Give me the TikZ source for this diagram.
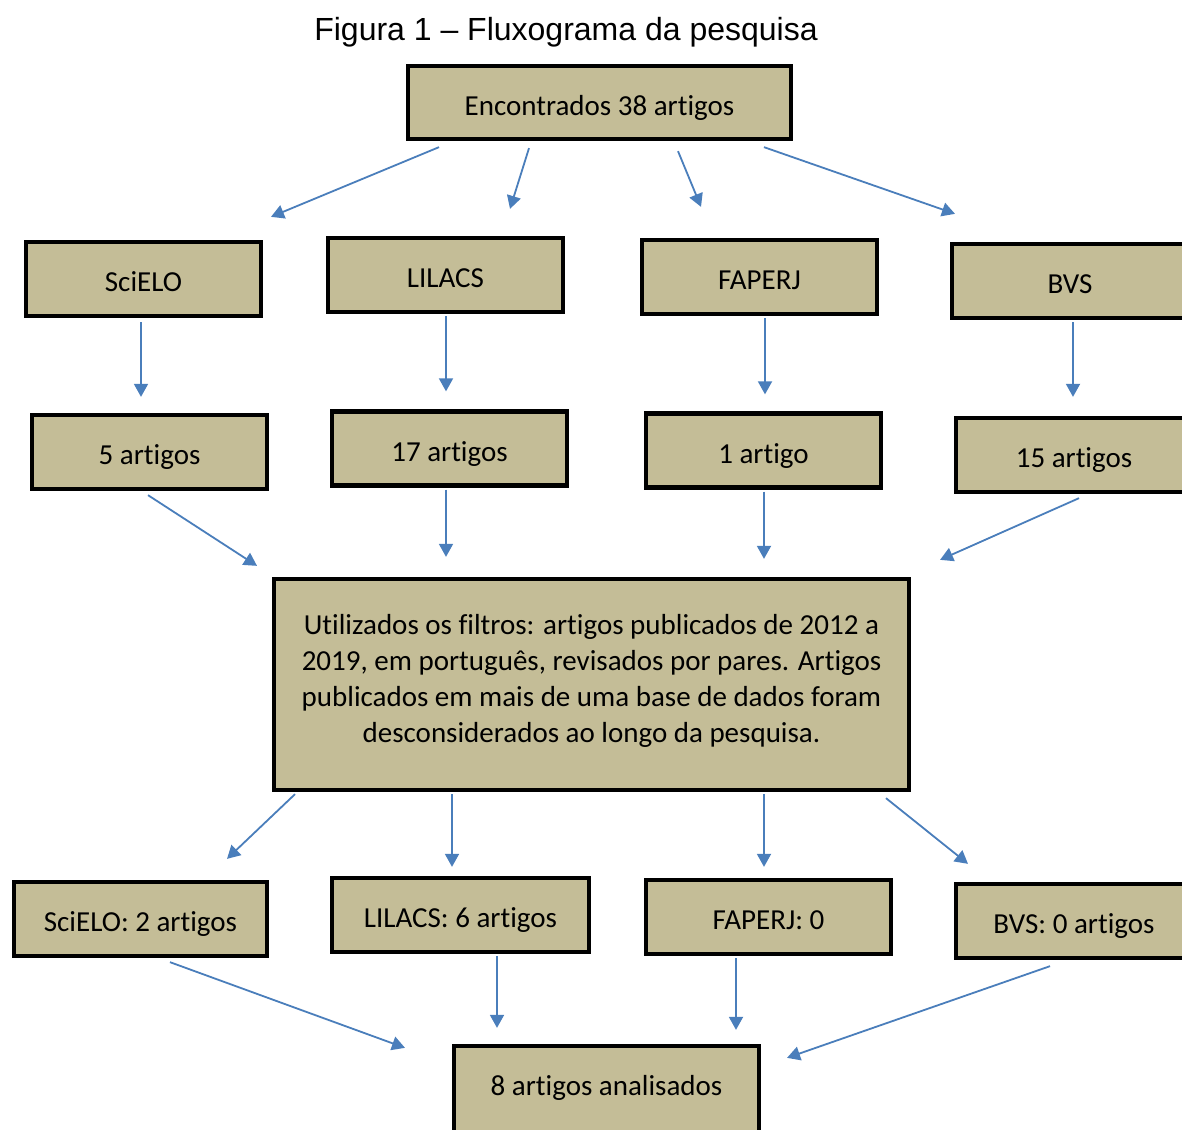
\documentclass[tikz,border=0pt]{standalone}
\usepackage{fontspec}
\setmainfont{Carlito}[Ligatures=CommonOff]
\newfontfamily\titlefont{Liberation Sans}
\usetikzlibrary{arrows.meta,calc}
\definecolor{boxtan}{HTML}{C4BD97}
\definecolor{arrblue}{HTML}{4A7EBB}

\begin{document}
\begin{tikzpicture}[x=1pt,y=-1pt,
  basebox/.style={draw,line width=4.3pt,fill=boxtan,minimum width=235,minimum height=74,inner sep=0pt,font=\fontsize{29}{36}\selectfont},
  box/.style={basebox,text height=31,text depth=6},
  arr/.style={-{Triangle[width=14pt,length=13pt]},arrblue,line width=1.8pt}]
\useasboundingbox (0,0) rectangle (1182,1129);
\clip (0,0) rectangle (1182,1129);
% titulo
\node[anchor=base,font=\titlefont\fontsize{32}{38}\selectfont] (title) at (566,41) {Figura 1 – Fluxograma da pesquisa};
% caixas
\node[box,minimum width=383,minimum height=73] (top) at (599.5,102.5) {Encontrados 38 artigos};
\node[box] (scielo) at (143.5,279) {SciELO};
\node[box] (lilacs) at (445.5,275) {LILACS};
\node[box] (faperj) at (759.5,277) {FAPERJ};
\node[box,minimum width=236] (bvs) at (1070,281) {BVS};
\node[box] (n5) at (149.5,452) {5 artigos};
\node[box] (n17) at (449.5,448.5) {17 artigos};
\node[box] (n1) at (763.5,450.5) {1 artigo};
\node[box,minimum width=236] (n15) at (1074,455) {15 artigos};
\node[basebox,minimum width=635,minimum height=211,align=center] (filt) at (591.5,684.5) {Utilizados os filtros: artigos publicados de 2012 a\\2019, em português, revisados por pares. Artigos\\publicados em mais de uma base de dados foram\\desconsiderados ao longo da pesquisa.\rule[-12pt]{0pt}{12pt}};
\node[box,minimum width=253] (s2) at (140.5,919) {SciELO: 2 artigos};
\node[box,minimum width=257] (l6) at (460.5,915) {LILACS: 6 artigos};
\node[box,minimum width=245] (f0) at (768.5,917) {FAPERJ: 0};
\node[box,minimum width=236] (b0) at (1074,921) {BVS: 0 artigos};
\node[box,text height=19,minimum width=305,minimum height=86] (fin) at (606.5,1089) {8 artigos analisados};
% setas
\draw[arr] ($(top.south)+(-160.5,6)$) -- ($(scielo.north)+(127.5,-23)$);
\draw[arr] ($(top.south)+(-70.5,7)$) -- ($(lilacs.north)+(64.5,-27)$);
\draw[arr] ($(top.south)+(78.5,10)$) -- ($(faperj.north)+(-58.5,-31)$);
\draw[arr] ($(top.south)+(164.5,6)$) -- ($(bvs.north)+(-115,-28)$);
\draw[arr] ($(scielo.south)+(-2.5,4)$) -- ($(n5.north)+(-8.5,-16)$);
\draw[arr] ($(lilacs.south)+(0.5,2)$) -- ($(n17.north)+(-3.5,-18)$);
\draw[arr] ($(faperj.south)+(5.5,2)$) -- ($(n1.north)+(1.5,-17)$);
\draw[arr] ($(bvs.south)+(3,2)$) -- ($(n15.north)+(-1,-19)$);
\draw[arr] ($(n5.south)+(-1.5,4)$) -- ($(filt.north)+(-334.5,-11)$);
\draw[arr] ($(n17.south)+(-3.5,2)$) -- ($(filt.north)+(-145.5,-20)$);
\draw[arr] ($(n1.south)+(0.5,2)$) -- ($(filt.north)+(172.5,-18)$);
\draw[arr] ($(n15.south)+(5,4)$) -- ($(filt.north)+(348.5,-17)$);
\draw[arr] ($(filt.south)+(-296.5,2)$) -- ($(s2.north)+(86.5,-21)$);
\draw[arr] ($(filt.south)+(-139.5,2)$) -- ($(l6.north)+(-8.5,-9)$);
\draw[arr] ($(filt.south)+(172.5,2)$) -- ($(f0.north)+(-4.5,-11)$);
\draw[arr] ($(filt.south)+(294.5,6)$) -- ($(b0.north)+(-106,-18)$);
\draw[arr] ($(s2.south)+(29.5,4)$) -- ($(fin.north)+(-201.5,4)$);
\draw[arr] ($(l6.south)+(36.5,2)$) -- ($(fin.north)+(-109.5,-16)$);
\draw[arr] ($(f0.south)+(-32.5,2)$) -- ($(fin.north)+(129.5,-14)$);
\draw[arr] ($(b0.south)+(-24,6)$) -- ($(fin.north)+(180.5,14)$);
\end{tikzpicture}
\end{document}
